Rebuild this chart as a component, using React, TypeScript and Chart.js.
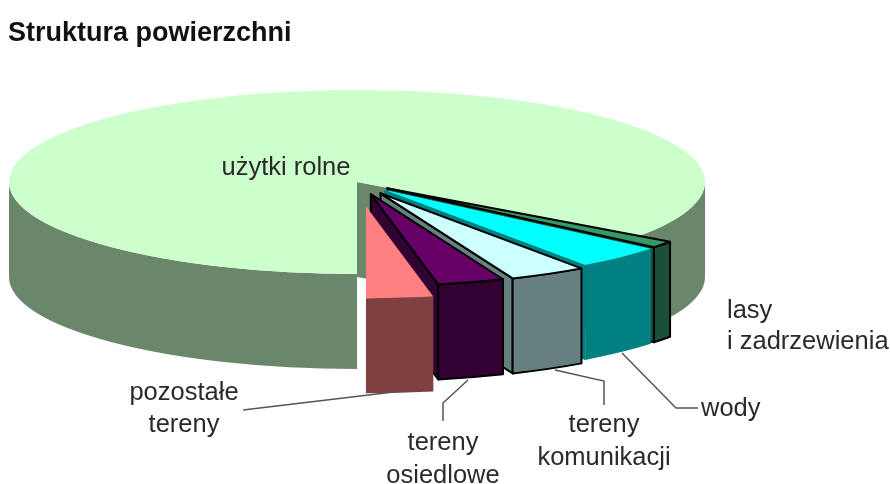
import { useEffect, useRef } from "react";
import { Chart, registerables } from "chart.js";

Chart.register(...registerables);

const categories = ["użytki rolne", "lasy i zadrzewienia", "wody", "tereny komunikacji", "tereny osiedlowe", "pozostałe tereny"];
const shares = [84.9, 1.2, 4.1, 3.6, 3.1, 3.1];
const topColors = ["#ccffcc", "#339966", "#00ffff", "#ccffff", "#660066", "#ff8080"];
const sideColors = ["#6b876b", "#1c4f38", "#008080", "#668080", "#330033", "#804040"];
const explodeFractions = [0, 0.11, 0.115, 0.14, 0.138, 0.265];
const outlined = [false, true, false, true, true, false];

const VIEW = { cx: 357, cy: 182, rx: 348, ry: 92, depth: 95 };
const LABEL_FONT = "25.5px 'Liberation Sans', Arial, sans-serif";
const LABEL_COLOR = "#2a2a2a";
const labelLines: [string, number, number, CanvasTextAlign][] = [
  ["użytki rolne", 286, 168, "center"],
  ["lasy", 727, 311, "left"],
  ["i zadrzewienia", 727, 342, "left"],
  ["wody", 701, 409, "left"],
  ["tereny", 604, 425, "center"],
  ["komunikacji", 604, 458, "center"],
  ["tereny", 443, 443, "center"],
  ["osiedlowe", 443, 476, "center"],
  ["pozostałe", 184, 393, "center"],
  ["tereny", 184, 425, "center"],
];
const leaders: [number, number][][] = [
  [[243, 410], [402, 391]],
  [[443, 421], [443, 403], [468, 380]],
  [[555, 370], [604, 381], [604, 405]],
  [[622, 353], [676, 408], [698, 408]],
];

const prism3d = {
  id: "prism3d",
  beforeDatasetDraw(chart: any) {
    const { ctx } = chart;
    const arcs = chart.getDatasetMeta(0).data;
    const { cx, cy, rx, ry, depth } = VIEW;
    arcs.forEach((arc: any, i: number) => {
      const R = arc.outerRadius;
      const a0 = arc.startAngle;
      const a1 = arc.endAngle;
      const mid = (a0 + a1) / 2;
      const ox = cx + Math.cos(mid) * explodeFractions[i] * rx;
      const oy = cy + Math.sin(mid) * explodeFractions[i] * ry;
      const px = (a: number) => ox + Math.cos(a) * rx;
      const py = (a: number) => oy + Math.sin(a) * ry;
      const border = () => {
        if (outlined[i]) {
          ctx.strokeStyle = "#000";
          ctx.lineWidth = 2;
          ctx.lineJoin = "round";
          ctx.stroke();
        }
      };
      ctx.save();
      ctx.fillStyle = sideColors[i];
      // inner radial face at the clockwise end of the slice
      if (Math.cos(a1) > 0.001) {
        ctx.beginPath();
        ctx.moveTo(ox, oy);
        ctx.lineTo(px(a1), py(a1));
        ctx.lineTo(px(a1), py(a1) + depth);
        ctx.lineTo(ox, oy + depth);
        ctx.closePath();
        ctx.fill();
        border();
      }
      // curved outer wall, only where it faces the viewer
      for (const [s, e] of [[0, Math.PI], [2 * Math.PI, 3 * Math.PI]]) {
        const lo = Math.max(a0, s);
        const hi = Math.min(a1, e);
        if (hi <= lo) continue;
        ctx.beginPath();
        ctx.ellipse(ox, oy, rx, ry, 0, lo, hi);
        ctx.lineTo(px(hi), py(hi) + depth);
        ctx.ellipse(ox, oy + depth, rx, ry, 0, hi, lo, true);
        ctx.closePath();
        ctx.fill();
        border();
      }
      ctx.restore();

      // top face: the library's own arc element, squashed onto the ellipse
      ctx.save();
      ctx.translate(ox, oy);
      ctx.scale(rx / R, ry / R);
      ctx.translate(-arc.x, -arc.y);
      arc.draw(ctx);
      ctx.restore();

      ctx.save();
      ctx.beginPath();
      ctx.moveTo(ox, oy);
      ctx.ellipse(ox, oy, rx, ry, 0, a0, a1);
      ctx.closePath();
      border();
      ctx.restore();
    });
    return false;
  },
  afterDraw(chart: any) {
    const { ctx } = chart;
    ctx.save();
    ctx.strokeStyle = "#555";
    ctx.lineWidth = 1.5;
    for (const line of leaders) {
      ctx.beginPath();
      line.forEach(([x, y], k) => (k ? ctx.lineTo(x, y) : ctx.moveTo(x, y)));
      ctx.stroke();
    }
    ctx.fillStyle = LABEL_COLOR;
    ctx.font = LABEL_FONT;
    ctx.textBaseline = "middle";
    for (const [text, x, y, align] of labelLines) {
      ctx.textAlign = align;
      ctx.fillText(text, x, y);
    }
    ctx.restore();
  },
};

export default function App() {
  const ref = useRef<HTMLCanvasElement>(null);
  useEffect(() => {
    document.body.style.margin = "0";
    const chart = new Chart(ref.current!, {
      type: "pie",
      data: {
        labels: categories,
        datasets: [{ data: shares, backgroundColor: topColors, borderWidth: 0 }],
      },
      options: {
        responsive: false,
        animation: false,
        rotation: 180,
        layout: { padding: { left: 8 } },
        plugins: {
          legend: { display: false },
          tooltip: { enabled: false },
          title: {
            display: true,
            text: "Struktura powierzchni",
            align: "start",
            color: "#111",
            font: { family: "'Liberation Sans', Arial, sans-serif", size: 27, weight: "bold" },
            padding: { top: 17, bottom: 10 },
          },
        },
      },
      plugins: [prism3d],
    } as any);
    return () => chart.destroy();
  }, []);
  return <canvas ref={ref} width={890} height={484} style={{ display: "block", background: "#fff" }} />;
}
